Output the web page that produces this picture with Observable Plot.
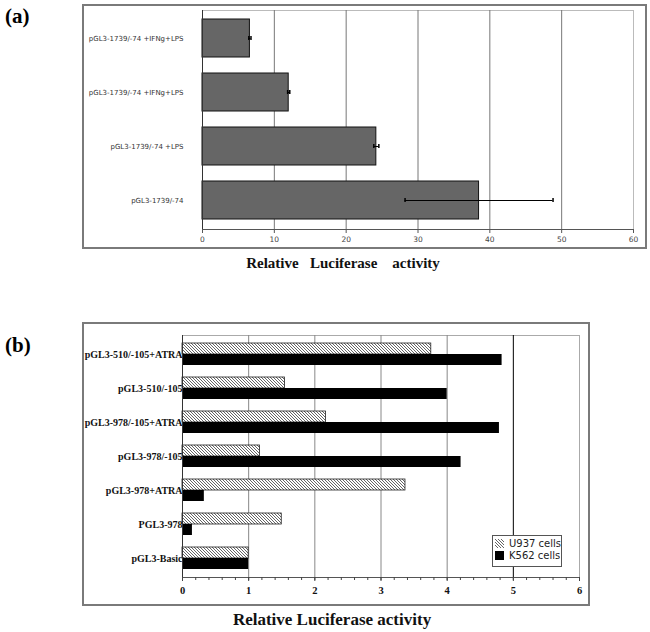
<!DOCTYPE html>
<html><head><meta charset="utf-8">
<script src="https://cdn.jsdelivr.net/npm/d3@7"></script>
<script src="https://cdn.jsdelivr.net/npm/@observablehq/plot@0.6"></script>
<style>
body{margin:0;width:650px;height:632px;position:relative;background:#fff;overflow:hidden}
.panel{position:absolute;left:0}
.frame{position:absolute;border:2px solid #7a7a7a;box-sizing:border-box}
.tag{position:absolute;font-family:"Liberation Serif",serif;font-weight:bold;font-size:21px;line-height:1}
#legend{position:absolute;left:492px;top:535px;width:70px;height:32px;border:1px solid #555;background:#fff;overflow:hidden;box-sizing:border-box;padding:2px 0 0 2px}
</style></head><body>
<svg width="0" height="0" style="position:absolute"><defs>
<pattern id="hatch" width="3" height="3" patternUnits="userSpaceOnUse">
<rect width="3" height="3" fill="#fff"/>
<path d="M-1,-1L4,4M2,-1L4,1M-1,2L1,4" stroke="#222" stroke-width="0.7"/>
</pattern></defs></svg>
<div class="tag" style="left:5px;top:6px">(a)</div>
<div class="frame" style="left:82px;top:4px;width:565px;height:245px"></div>
<div id="a" class="panel" style="top:0"></div>
<div class="tag" style="left:5px;top:335px">(b)</div>
<div class="frame" style="left:82px;top:322px;width:508px;height:284px"></div>
<div id="b" class="panel" style="top:290px"></div>
<div id="legend"></div>
<script>
// ---- Panel (a) data ----
const aLabels = ["pGL3-1739/-74 +IFNg+LPS", "pGL3-1739/-74 +IFNg+LPS", "pGL3-1739/-74 +LPS", "pGL3-1739/-74"];
const aValues = [6.6, 12.0, 24.2, 38.5];
const aErrors = [0.15, 0.15, 0.35, 10.3];
const aTicks = [0, 10, 20, 30, 40, 50, 60];
const aTitle = "Relative\u00a0\u00a0\u00a0Luciferase\u00a0\u00a0\u00a0\u00a0activity";

// ---- Panel (b) data ----
const bCategories = ["pGL3-510/-105+ATRA", "pGL3-510/-105", "pGL3-978/-105+ATRA", "pGL3-978/-105", "pGL3-978+ATRA", "PGL3-978", "pGL3-Basic"];
const bU937 = [3.76, 1.55, 2.17, 1.17, 3.37, 1.50, 1.00];
const bK562 = [4.83, 4.00, 4.79, 4.21, 0.33, 0.15, 1.00];
const bSeries = ["U937 cells", "K562 cells"];
const bTicks = [0, 1, 2, 3, 4, 5, 6];
const bTitle = "Relative Luciferase activity";

const aData = aValues.map((v, i) => ({idx: i, v, e: aErrors[i]}));

const chartA = Plot.plot({
  width: 650, height: 285,
  marginLeft: 202, marginRight: 17, marginTop: 10, marginBottom: 56,
  style: {fontFamily: "'DejaVu Sans', sans-serif", background: "transparent"},
  x: {domain: [0, 60]},
  y: {domain: [0, 1, 2, 3], paddingInner: 0.29, paddingOuter: 0.15},
  marks: [
    Plot.frame({stroke: "#bbb"}),
    Plot.ruleX(aTicks.slice(1, -1), {stroke: "#777", strokeWidth: 1}),
    Plot.barX(aData, {x: "v", y: "idx", fill: "#666", stroke: "#111", strokeWidth: 1}),
    Plot.ruleY(aData, {y: "idx", x1: d => d.v - d.e, x2: d => d.v + d.e, stroke: "#000", strokeWidth: 1}),
    Plot.tickX(aData, {x: d => d.v - d.e, y: "idx", insetTop: 17, insetBottom: 17, stroke: "#000", strokeWidth: 1.5}),
    Plot.tickX(aData, {x: d => d.v + d.e, y: "idx", insetTop: 17, insetBottom: 17, stroke: "#000", strokeWidth: 1.5}),
    Plot.ruleX([0], {stroke: "#333"}),
    Plot.frame({anchor: "bottom", stroke: "#555"}),
    Plot.axisX({ticks: aTicks, tickSize: 4, tickPadding: 3, fontSize: 7.5, fill: "#444", stroke: "#555", label: null}),
    Plot.axisY({tickFormat: i => aLabels[i], tickSize: 0, tickPadding: 19, fontSize: 7, fill: "#333", label: null}),
    Plot.text([aTitle], {frameAnchor: "bottom", lineAnchor: "middle", dx: -75, dy: 34,
      fontFamily: "'Liberation Serif', serif", fontWeight: "bold", fontSize: 15, fill: "#111"})
  ]
});
document.getElementById("a").append(chartA);

const bData = bCategories.map((c, i) => ({cat: c, u: bU937[i], k: bK562[i]}));

const chartB = Plot.plot({
  width: 650, height: 342,
  marginLeft: 182, marginRight: 71, marginTop: 45, marginBottom: 55,
  style: {fontFamily: "'Liberation Serif', serif", background: "transparent"},
  x: {domain: [0, 6]},
  y: {domain: bCategories, paddingInner: 0.36, paddingOuter: 0.19},
  marks: [
    Plot.frame({stroke: "#aaa"}),
    Plot.ruleX(bTicks.slice(1, 5), {stroke: "#888", strokeWidth: 1}),
    Plot.ruleX([5], {stroke: "#000", strokeWidth: 1}),
    Plot.axisY({tickSize: 0, tickPadding: 0, fontSize: 10, fontWeight: "bold", fill: "#111", label: null}),
    Plot.barX(bData, {x: "u", y: "cat", insetBottom: 11, fill: "url(#hatch)", stroke: "#222", strokeWidth: 0.8}),
    Plot.barX(bData, {x: "k", y: "cat", insetTop: 11, fill: "#000"}),
    Plot.ruleX([0], {stroke: "#333"}),
    Plot.frame({anchor: "bottom", stroke: "#555"}),
    Plot.axisX({ticks: d3.ticks(0, 6, 30), tickSize: 3, text: null, stroke: "#444", label: null}),
    Plot.axisX({ticks: bTicks, tickFormat: "d", tickSize: 4, tickPadding: 5, fontSize: 10.5, fontWeight: "bold", fill: "#111", stroke: "#444", label: null}),
    Plot.text([bTitle], {frameAnchor: "bottom", lineAnchor: "middle", dx: -49, dy: 42,
      fontFamily: "'Liberation Serif', serif", fontWeight: "bold", fontSize: 17, fill: "#111"})
  ]
});
document.getElementById("b").append(chartB);

const legend = Plot.legend({
  color: {type: "ordinal", domain: bSeries, range: ["url(#hatch)", "#000"]},
  columns: 1, swatchSize: 9,
  style: {fontFamily: "'DejaVu Sans', sans-serif", fontSize: "10px", color: "#222", whiteSpace: "nowrap", margin: 0}
});
document.getElementById("legend").append(legend);
</script>
</body></html>
